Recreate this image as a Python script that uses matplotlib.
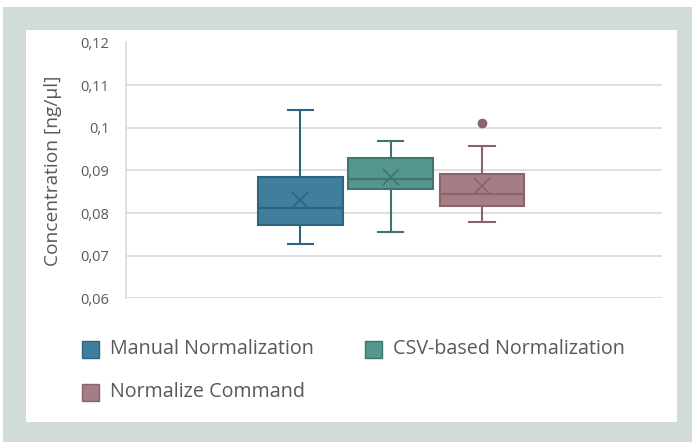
import matplotlib.pyplot as plt
from matplotlib.patches import Rectangle
from matplotlib.ticker import FuncFormatter

plt.rcParams['font.family'] = ['Open Sans', 'DejaVu Sans']

# box plot statistics
labels = ["Manual Normalization", "CSV-based Normalization", "Normalize Command"]
q1 = [0.0772, 0.0856, 0.0816]
median = [0.0812, 0.0880, 0.0845]
q3 = [0.0885, 0.0930, 0.0892]
whis_lo = [0.0727, 0.0755, 0.0778]
whis_hi = [0.1042, 0.0970, 0.0958]
means = [0.0831, 0.0885, 0.0863]
outliers = [[], [], [0.1012]]

fills = ["#3f7e9c", "#55978f", "#a67d84"]
edges = ["#2e6480", "#3d7670", "#8b636b"]
text_col = "#595959"
grid_col = "#d9d9d9"

W, H = 692, 442
fig = plt.figure(figsize=(W / 100, H / 100), dpi=100)
fig.patch.set_facecolor("white")

# outer frame and panel (pixel coords -> figure fractions)
def px_rect(x0, y0, x1, y1, color):
    fig.add_artist(Rectangle((x0 / W, 1 - y1 / H), (x1 - x0) / W, (y1 - y0) / H,
                             transform=fig.transFigure, facecolor=color,
                             edgecolor="none", zorder=-10))

px_rect(3, 7, 692, 442, "#d1dbd8")
px_rect(26, 30, 677, 422, "white")

ax = fig.add_axes([126 / W, 1 - 298.3 / H, 536 / W, 255.8 / H])
ax.set_facecolor("none")

positions = [0.325, 0.494, 0.664]
for i in range(3):
    st = dict(med=median[i], q1=q1[i], q3=q3[i], whislo=whis_lo[i],
              whishi=whis_hi[i], mean=means[i], fliers=outliers[i], label=labels[i])
    ec = edges[i]
    ax.bxp([st], positions=[positions[i]], widths=0.158, capwidths=0.047,
           patch_artist=True, showmeans=True,
           boxprops=dict(facecolor=fills[i], edgecolor=ec, linewidth=1.5),
           medianprops=dict(color=ec, linewidth=1.5),
           whiskerprops=dict(color=ec, linewidth=1.5),
           capprops=dict(color=ec, linewidth=1.5),
           meanprops=dict(marker="x", markeredgecolor=ec, markersize=11,
                          markeredgewidth=1.3),
           flierprops=dict(marker="o", markerfacecolor=ec, markeredgecolor=ec,
                           markersize=6))

ax.set_xlim(0, 1)
ax.set_ylim(0.06, 0.12)
ax.set_yticks([0.06, 0.07, 0.08, 0.09, 0.10, 0.11, 0.12])
ax.yaxis.set_major_formatter(FuncFormatter(lambda v, p: f"{v:.2f}".rstrip("0").replace(".", ",")))
ax.set_xticks([])
ax.tick_params(axis="y", length=0, pad=12, labelsize=10.5, labelcolor=text_col)
ax.grid(axis="y", color=grid_col, linewidth=1.2)
ax.set_axisbelow(True)
for s in ["top", "right", "bottom"]:
    ax.spines[s].set_visible(False)
ax.spines["left"].set_color(grid_col)
ax.spines["left"].set_linewidth(1.2)
ax.set_ylabel("Concentration [ng/µl]", fontsize=13.8, color=text_col, labelpad=13)

# legend drawn by hand to follow the original layout
leg_pos = [(82, 349), (365, 349), (82, 392)]
for (x, y), lab, fc, ec in zip(leg_pos, labels, fills, edges):
    fig.add_artist(Rectangle((x / W, 1 - (y + 8.5) / H), 17 / W, 17 / H,
                             transform=fig.transFigure, facecolor=fc,
                             edgecolor=ec, linewidth=1))
    fig.text((x + 28) / W, 1 - y / H, lab, fontsize=14.2, color=text_col,
             va="center", ha="left")

fig.savefig("out.png", dpi=100)
